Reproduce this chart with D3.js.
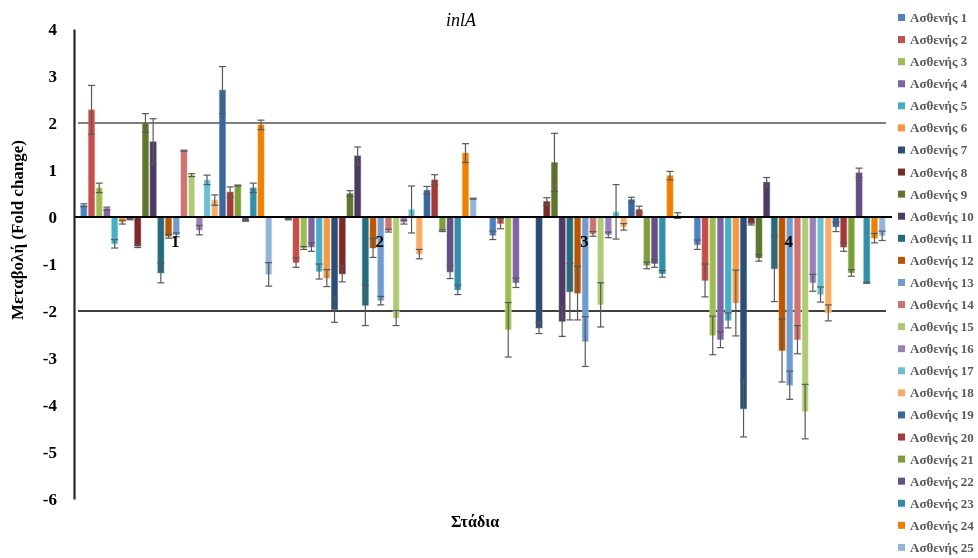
<!DOCTYPE html>
<html>
  <head>
    <meta charset="utf-8">
    <title>inlA</title>
    <script src="https://d3js.org/d3.v7.min.js"></script>
    <style>
      body { margin: 0; background: #fff; }
      #chart { position: fixed; left: 0; top: 0; width: 978px; height: 558px; }
      text { font-family: "Liberation Serif", "Times New Roman", Times, serif; }
    </style>
  </head>
  <body>
    <div id="chart"></div>
    <script>

      // stages (x groups) and patients (series)
      const stages = ['1', '2', '3', '4'];
      const patients = d3.range(1, 26).map(i => 'Ασθενής ' + i);

      // fold change per patient, one array per stage
      const stage1 = [0.25, 2.28, 0.62, 0.18, -0.57, -0.11, -0.05, -0.62, 2.0, 1.6, -1.19, -0.41, -0.38,
                      1.41, 0.89, -0.28, 0.79, 0.36, 2.7, 0.53, 0.67, -0.08, 0.62, 1.96, -1.22];
      const stage2 = [-0.05, -0.97, -0.66, -0.64, -1.16, -1.3, -1.97, -1.21, 0.5, 1.3, -1.88, -0.66, -1.78,
                      -0.29, -2.15, -0.11, 0.16, -0.79, 0.57, 0.79, -0.29, -1.17, -1.55, 1.36, 0.39];
      const stage3 = [-0.39, -0.14, -2.4, -1.4, 0, 0, -2.36, 0.33, 1.16, -2.22, -1.59, -1.62, -2.65,
                      -0.36, -1.87, -0.38, 0.11, -0.21, 0.37, 0.16, -1.03, -0.99, -1.21, 0.88, 0.03];
      const stage4 = [-0.59, -1.35, -2.52, -2.61, -2.2, -1.83, -4.08, -0.14, -0.87, 0.74, -1.1, -2.84, -3.58,
                      -2.61, -4.14, -1.4, -1.65, -2.04, -0.21, -0.64, -1.19, 0.94, -1.4, -0.45, -0.4];

      // error bar half-lengths
      const err1 = [0.03, 0.52, 0.1, 0.03, 0.09, 0.04, 0.01, 0.03, 0.2, 0.49, 0.21, 0.04, 0.04,
                    0.01, 0.03, 0.1, 0.1, 0.11, 0.5, 0.11, 0.01, 0.01, 0.1, 0.1, 0.25];
      const err2 = [0.01, 0.1, 0.03, 0.09, 0.16, 0.18, 0.27, 0.17, 0.06, 0.19, 0.43, 0.2, 0.09,
                    0.03, 0.16, 0.04, 0.5, 0.1, 0.08, 0.11, 0.02, 0.14, 0.1, 0.2, 0.01];
      const err3 = [0.09, 0.11, 0.58, 0.1, 0, 0, 0.12, 0.08, 0.62, 0.32, 0.6, 0.57, 0.53,
                    0.05, 0.47, 0.06, 0.58, 0.07, 0.05, 0.07, 0.07, 0.08, 0.07, 0.09, 0.06];
      const err4 = [0.1, 0.35, 0.41, 0.17, 0.16, 0.7, 0.6, 0.03, 0.07, 0.1, 0.7, 0.67, 0.3,
                    0.3, 0.58, 0.18, 0.16, 0.17, 0.1, 0.09, 0.07, 0.1, 0.01, 0.1, 0.1];

      const yTicks = [-6, -5, -4, -3, -2, -1, 0, 1, 2, 3, 4];
      const refLines = [2, -2];

      const colors = ['#4F81BD', '#C0504D', '#9BBB59', '#8064A2', '#4BACC6', '#F79646', '#2C4D75',
                      '#772C2A', '#5F7530', '#4D3B62', '#276A7C', '#B65708', '#729ACA', '#CD7371',
                      '#AFC97A', '#9983B5', '#6FBDD1', '#F9AB6B', '#3A679C', '#9F3B38', '#7E9C40',
                      '#664F83', '#358EA6', '#F07F09', '#95B3D7'];

      const values = [stage1, stage2, stage3, stage4];
      const errs = [err1, err2, err3, err4];
      const data = [];
      stages.forEach((s, i) => patients.forEach((p, j) => {
        data.push({ stage: s, patient: p, value: values[i][j], err: errs[i][j] });
      }));

      const width = 978, height = 558;
      const svg = d3.select('#chart').append('svg')
        .attr('width', width)
        .attr('height', height);

      const x0 = d3.scaleBand()
        .domain(stages)
        .range([74, 892])
        .paddingInner(0.066)
        .paddingOuter(0.033);

      const x1 = d3.scaleBand()
        .domain(patients)
        .range([0, x0.bandwidth()])
        .paddingInner(0.2);

      const y = d3.scaleLinear()
        .domain([-6, 4])
        .range([499, 29]);

      const color = d3.scaleOrdinal().domain(patients).range(colors);

      // reference lines at +2 / -2
      svg.selectAll('.ref')
        .data(refLines)
        .enter().append('line')
          .attr('x1', 78)
          .attr('x2', 886)
          .attr('y1', d => y(d))
          .attr('y2', d => y(d))
          .attr('stroke', d => d > 0 ? '#555' : '#000')
          .attr('stroke-width', 1.6);

      // bars
      const bars = svg.append('g');
      bars.selectAll('rect')
        .data(data)
        .enter().append('rect')
          .attr('x', d => x0(d.stage) + x1(d.patient))
          .attr('width', x1.bandwidth())
          .attr('y', d => y(Math.max(0, d.value)))
          .attr('height', d => Math.abs(y(d.value) - y(0)))
          .attr('fill', d => color(d.patient))
          .attr('stroke', d => d3.color(color(d.patient)).brighter(0.8))
          .attr('stroke-opacity', 0.45)
          .attr('stroke-width', 1);

      // error bars
      const eb = svg.append('g')
        .attr('stroke', '#595959')
        .attr('stroke-width', 1.2);
      const withErr = data.filter(d => d.err > 0);
      const cx = d => x0(d.stage) + x1(d.patient) + x1.bandwidth() / 2;
      eb.selectAll('.stem')
        .data(withErr)
        .enter().append('line')
          .attr('x1', cx).attr('x2', cx)
          .attr('y1', d => y(d.value + d.err))
          .attr('y2', d => y(d.value - d.err));
      eb.selectAll('.capTop')
        .data(withErr)
        .enter().append('line')
          .attr('x1', d => cx(d) - 3.5).attr('x2', d => cx(d) + 3.5)
          .attr('y1', d => y(d.value + d.err))
          .attr('y2', d => y(d.value + d.err));
      eb.selectAll('.capBot')
        .data(withErr)
        .enter().append('line')
          .attr('x1', d => cx(d) - 3.5).attr('x2', d => cx(d) + 3.5)
          .attr('y1', d => y(d.value - d.err))
          .attr('y2', d => y(d.value - d.err));

      // zero line
      svg.append('line')
        .attr('x1', 74).attr('x2', 892)
        .attr('y1', y(0)).attr('y2', y(0))
        .attr('stroke', '#000')
        .attr('stroke-width', 2);

      // y axis (plain hyphen for negatives, like the original)
      const yAxis = d3.axisLeft(y)
        .tickValues(yTicks)
        .tickSize(0)
        .tickPadding(17)
        .tickFormat(d => String(d));
      const yAxisG = svg.append('g')
        .attr('transform', 'translate(74,0)')
        .call(yAxis);
      yAxisG.select('.domain')
        .attr('stroke', '#262626')
        .attr('stroke-width', 2.2);
      yAxisG.selectAll('text')
        .attr('font-weight', 'bold')
        .attr('font-size', 17)
        .attr('fill', '#000');

      // stage labels near zero line
      svg.selectAll('.stage')
        .data(stages)
        .enter().append('text')
          .attr('x', d => x0(d) + x0.bandwidth() / 2 - 1)
          .attr('y', y(0) + 30)
          .attr('text-anchor', 'middle')
          .attr('font-weight', 'bold')
          .attr('font-size', 17)
          .text(d => d);

      // title
      svg.append('text')
        .attr('x', 461)
        .attr('y', 26)
        .attr('text-anchor', 'middle')
        .attr('font-style', 'italic')
        .attr('font-size', 18)
        .text('inlA');

      // axis titles
      svg.append('text')
        .attr('transform', 'translate(23,230) rotate(-90)')
        .attr('text-anchor', 'middle')
        .attr('font-weight', 'bold')
        .attr('font-size', 17)
        .text('Μεταβολή (Fold change)');

      svg.append('text')
        .attr('x', 475)
        .attr('y', 527)
        .attr('text-anchor', 'middle')
        .attr('font-weight', 'bold')
        .attr('font-size', 16)
        .text('Στάδια');

      // legend
      const legend = svg.append('g')
        .attr('transform', 'translate(898,18)');
      const item = legend.selectAll('g')
        .data(patients)
        .enter().append('g')
          .attr('transform', (d, i) => `translate(0,${i * 22.08})`);
      item.append('rect')
        .attr('x', 0).attr('y', -4)
        .attr('width', 7).attr('height', 7)
        .attr('fill', d => color(d));
      item.append('text')
        .attr('x', 12)
        .attr('y', 4)
        .attr('font-weight', 'bold')
        .attr('font-size', 13)
        .attr('fill', '#595959')
        .text(d => d);

    </script>
  </body>
</html>
